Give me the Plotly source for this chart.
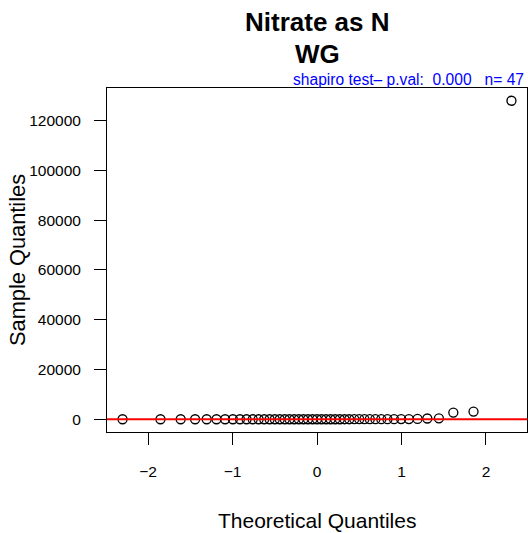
import numpy as np
import plotly.graph_objects as go

# Normal Q-Q plot of Nitrate as N, group WG (n = 47)
theoretical_q = [-2.302, -1.853, -1.614, -1.443, -1.306, -1.190, -1.088, -0.996,
                 -0.912, -0.834, -0.761, -0.691, -0.625, -0.561, -0.500, -0.441,
                 -0.382, -0.326, -0.270, -0.215, -0.161, -0.107, -0.053, 0.0,
                 0.053, 0.107, 0.161, 0.215, 0.270, 0.326, 0.382, 0.441,
                 0.500, 0.561, 0.625, 0.691, 0.761, 0.834, 0.912, 0.996,
                 1.088, 1.190, 1.306, 1.443, 1.614, 1.853, 2.302]
sample_q = [0.2, 0.3, 0.4, 0.5, 0.6, 0.7, 0.8, 0.9, 1.0, 1.1,
            1.2, 1.4, 1.5, 1.7, 2.0, 2.2, 2.5, 2.8, 3.0, 3.3,
            3.6, 4.0, 4.5, 5.0, 5.5, 6.0, 7, 8, 9, 10,
            12, 14, 16, 18, 20, 25, 30, 40, 50, 60,
            80, 120, 300, 380, 2700, 3100, 128000]
x_ticks = [-2, -1, 0, 1, 2]
y_ticks = [0, 20000, 40000, 60000, 80000, 100000, 120000]
title_lines = ["Nitrate as N", "WG"]
sub_text = "shapiro test\u2013 p.val:\u00a0\u00a00.000\u00a0\u00a0\u00a0n=\u00a047"

FONT = "Liberation Sans, Arial, sans-serif"

# R style ranges (4% extension)
def r_range(v):
    lo, hi = min(v), max(v)
    d = (hi - lo) * 0.04
    return [lo - d, hi + d]

xr = r_range(theoretical_q)
yr = r_range(sample_q)

# qqline through the quartiles
q25, q75 = np.percentile(sample_q, [25, 75])
z25, z75 = -0.6745, 0.6745
slope = (q75 - q25) / (z75 - z25)
inter = q25 - slope * z25
line_x = np.array(xr)
line_y = inter + slope * line_x

fig = go.Figure()
fig.add_trace(go.Scatter(x=theoretical_q, y=sample_q, mode="markers",
                         marker=dict(symbol="circle-open", size=9, color="black",
                                     line=dict(width=1.3, color="black")),
                         showlegend=False))
fig.add_trace(go.Scatter(x=line_x, y=line_y, mode="lines",
                         line=dict(color="#ff0000", width=2), showlegend=False))

axis_common = dict(showgrid=False, zeroline=False, showline=True, mirror=True,
                   linecolor="black", linewidth=1, ticks="outside", ticklen=12,
                   tickwidth=1, tickcolor="black",
                   tickfont=dict(family=FONT, size=15.5, color="black"))
fig.update_xaxes(range=xr, tickvals=x_ticks, ticklabelstandoff=13, **axis_common)
fig.update_yaxes(range=yr, tickvals=y_ticks, tickformat="d", ticklabelstandoff=10,
                 **axis_common)

ann = [
    dict(text="<b>" + title_lines[0] + "</b>", x=0.5, y=1, yshift=66,
         font=dict(size=26, family=FONT, color="black")),
    dict(text="<b>" + title_lines[1] + "</b>", x=0.5, y=1, yshift=34,
         font=dict(size=26, family=FONT, color="black")),
    dict(text=sub_text, x=1, xanchor="right", xshift=-1, y=1, yshift=9,
         font=dict(size=15.6, family=FONT, color="#0000ff")),
    dict(text="Theoretical Quantiles", x=0.5, y=0, yshift=-88,
         font=dict(size=21, family=FONT, color="black")),
    dict(text="Sample Quantiles", x=0, xshift=-90, y=0.5, textangle=-90,
         font=dict(size=21.8, family=FONT, color="black")),
]
for a in ann:
    a.update(xref="paper", yref="paper", showarrow=False)
    a.setdefault("xanchor", "center")
    a.setdefault("yanchor", "middle")

fig.update_layout(width=528, height=533, plot_bgcolor="white", paper_bgcolor="white",
                  margin=dict(l=107, r=1, t=88, b=101), annotations=ann,
                  font=dict(family=FONT))

fig.write_html("out.html", config={"displayModeBar": False},
               post_script="document.body.style.margin='0px';document.body.style.overflow='hidden';")
